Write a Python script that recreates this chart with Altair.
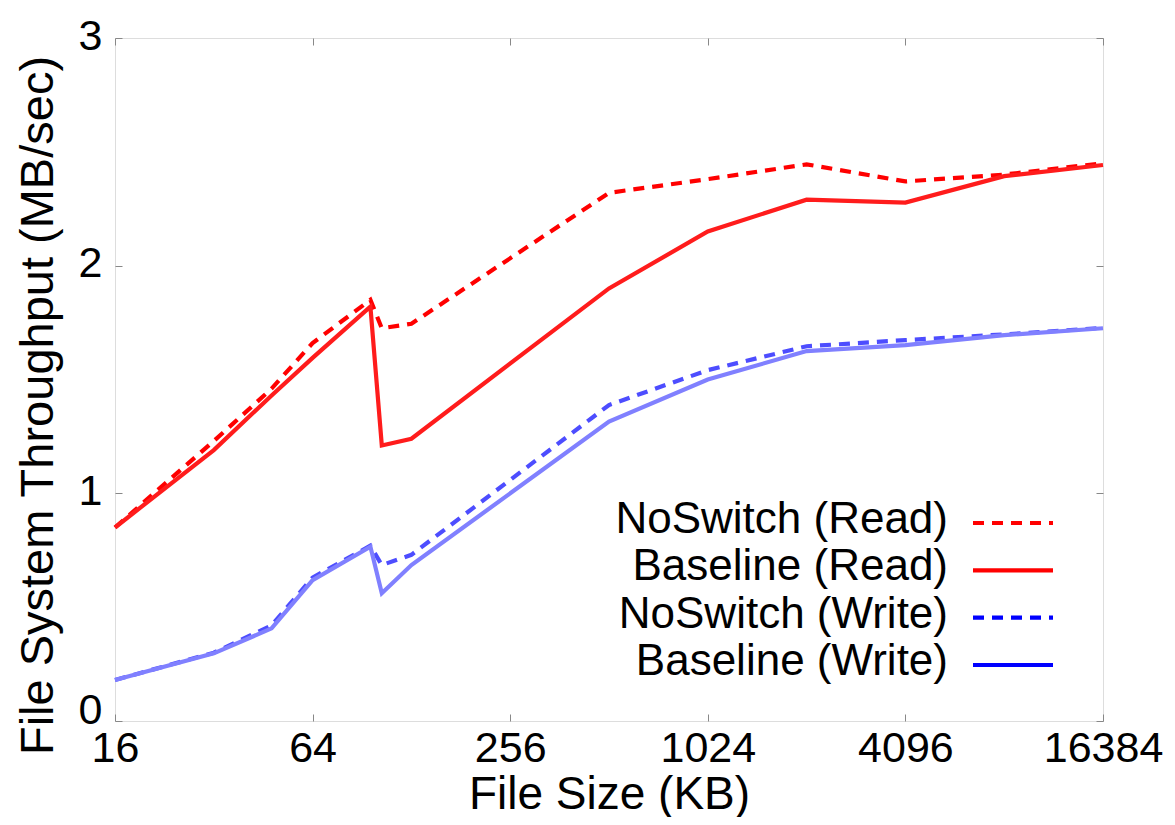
import altair as alt
import pandas as pd

# ---- data ----
sizes = [16, 32, 48, 64, 96, 104, 128, 512, 1024, 2048, 4096, 8192, 16384]
noswitch_read = [0.85, 1.23, 1.46, 1.66, 1.85, 1.725, 1.745, 2.32, 2.38, 2.445, 2.37, 2.40, 2.45]
baseline_read = [0.85, 1.19, 1.43, 1.595, 1.82, 1.21, 1.24, 1.90, 2.15, 2.29, 2.277, 2.393, 2.442]
noswitch_write = [0.18, 0.30, 0.42, 0.63, 0.77, 0.685, 0.73, 1.388, 1.541, 1.646, 1.673, 1.698, 1.727]
baseline_write = [0.18, 0.297, 0.407, 0.619, 0.766, 0.561, 0.685, 1.315, 1.50, 1.625, 1.651, 1.695, 1.725]

series_names = ["NoSwitch (Read)", "Baseline (Read)", "NoSwitch (Write)", "Baseline (Write)"]
series_values = [noswitch_read, baseline_read, noswitch_write, baseline_write]
line_colors = ["#ff0000", "#ff1c1c", "#4d4dff", "#8080ff"]
legend_colors = ["#ff0000", "#ff0000", "#0000ff", "#0000ff"]
dashed = [True, False, True, False]

x_ticks = [16, 64, 256, 1024, 4096, 16384]
y_ticks = [0, 1, 2, 3]

FONT = "Liberation Sans"
W, H = 988, 683
TICK = 7

rows = []
for name, vals in zip(series_names, series_values):
    for s, v in zip(sizes, vals):
        rows.append({"size": s, "value": v, "series": name})
df = pd.DataFrame(rows)

xscale = alt.Scale(type="log", base=2, domain=[16, 16384], nice=False)
yscale = alt.Scale(domain=[0, 3], nice=False, zero=False)

x_axis_bottom = alt.Axis(values=x_ticks, format="d", orient="bottom", offset=-TICK,
                         tickSize=TICK, domain=False, grid=False, labelPadding=6,
                         labelFontSize=43, labelFont=FONT, labelColor="black",
                         labelFlush=False, labelOverlap=False,
                         title="File Size (KB)", titleFontSize=46, titleFont=FONT,
                         titleFontWeight="normal", titleColor="black",
                         titleX=W / 2, titleY=80, titleBaseline="middle", titleAlign="center")
y_axis_left = alt.Axis(values=y_ticks, format="d", orient="left", offset=-TICK,
                       tickSize=TICK, domain=False, grid=False, labelPadding=13,
                       labelFontSize=43, labelFont=FONT, labelColor="black",
                       labelFlush=False, labelOverlap=False,
                       labelOffset={"condition": {"test": "datum.value === 0", "value": -11}, "value": -2},
                       title="File System Throughput (MB/sec)", titleFontSize=47,
                       titleFont=FONT, titleFontWeight="normal", titleColor="black",
                       titleX=-84, titleY=367, titleAngle=270,
                       titleBaseline="middle", titleAlign="center")
x_axis_top = alt.Axis(values=x_ticks, orient="top", offset=-TICK, tickSize=TICK,
                      domain=False, grid=False, labels=False, title=None)
y_axis_right = alt.Axis(values=y_ticks, orient="right", offset=-TICK, tickSize=TICK,
                        domain=False, grid=False, labels=False, title=None)

layers = []
for i, (name, col, dsh) in enumerate(zip(series_names, line_colors, dashed)):
    if i == 0:
        xa, ya = x_axis_bottom, y_axis_left
    elif i == 1:
        xa, ya = x_axis_top, y_axis_right
    else:
        xa, ya = None, None
    mk = dict(color=col, strokeWidth=4.2, clip=False, strokeJoin="miter", strokeCap="butt")
    if dsh:
        mk["strokeDash"] = [11, 8]
    layers.append(
        alt.Chart(df).transform_filter(alt.datum.series == name).mark_line(**mk).encode(
            x=alt.X("size:Q", scale=xscale, axis=xa),
            y=alt.Y("value:Q", scale=yscale, axis=ya),
            order="size:Q",
        )
    )

# ---- legend (inside plot, labels left of samples) ----
leg = pd.DataFrame({"label": series_names, "row": [0, 1, 2, 3]})
leg_y = alt.Y("row:Q", scale=alt.Scale(domain=[0, 3], range=[485, 627], nice=False, zero=False), axis=None)
leg_text = alt.Chart(leg).mark_text(align="right", baseline="middle", fontSize=44,
                                    font=FONT, color="black", dy=-3).encode(
    x=alt.value(833), y=leg_y, text="label:N")
leg_lines = []
for name, col, dsh in zip(series_names, legend_colors, dashed):
    mk = dict(color=col, strokeWidth=4.2, strokeCap="butt")
    if dsh:
        mk["strokeDash"] = [11, 8]
    leg_lines.append(
        alt.Chart(leg).transform_filter(alt.datum.label == name).mark_rule(**mk).encode(
            x=alt.value(858), x2=alt.value(938), y=leg_y)
    )

chart = alt.layer(*layers, leg_text, *leg_lines).resolve_scale(
    y="independent"
).resolve_axis(
    x="independent", y="independent"
).properties(
    width=W, height=H,
    autosize=alt.AutoSizeParams(type="none"),
    padding={"left": 107, "top": 30, "right": 62, "bottom": 96},
).configure_view(
    stroke="black", strokeWidth=2.5
).configure_axis(
    tickColor="black", tickWidth=2
).configure(background="white")

chart.save("out.html", embed_options={"renderer": "svg", "actions": False})
